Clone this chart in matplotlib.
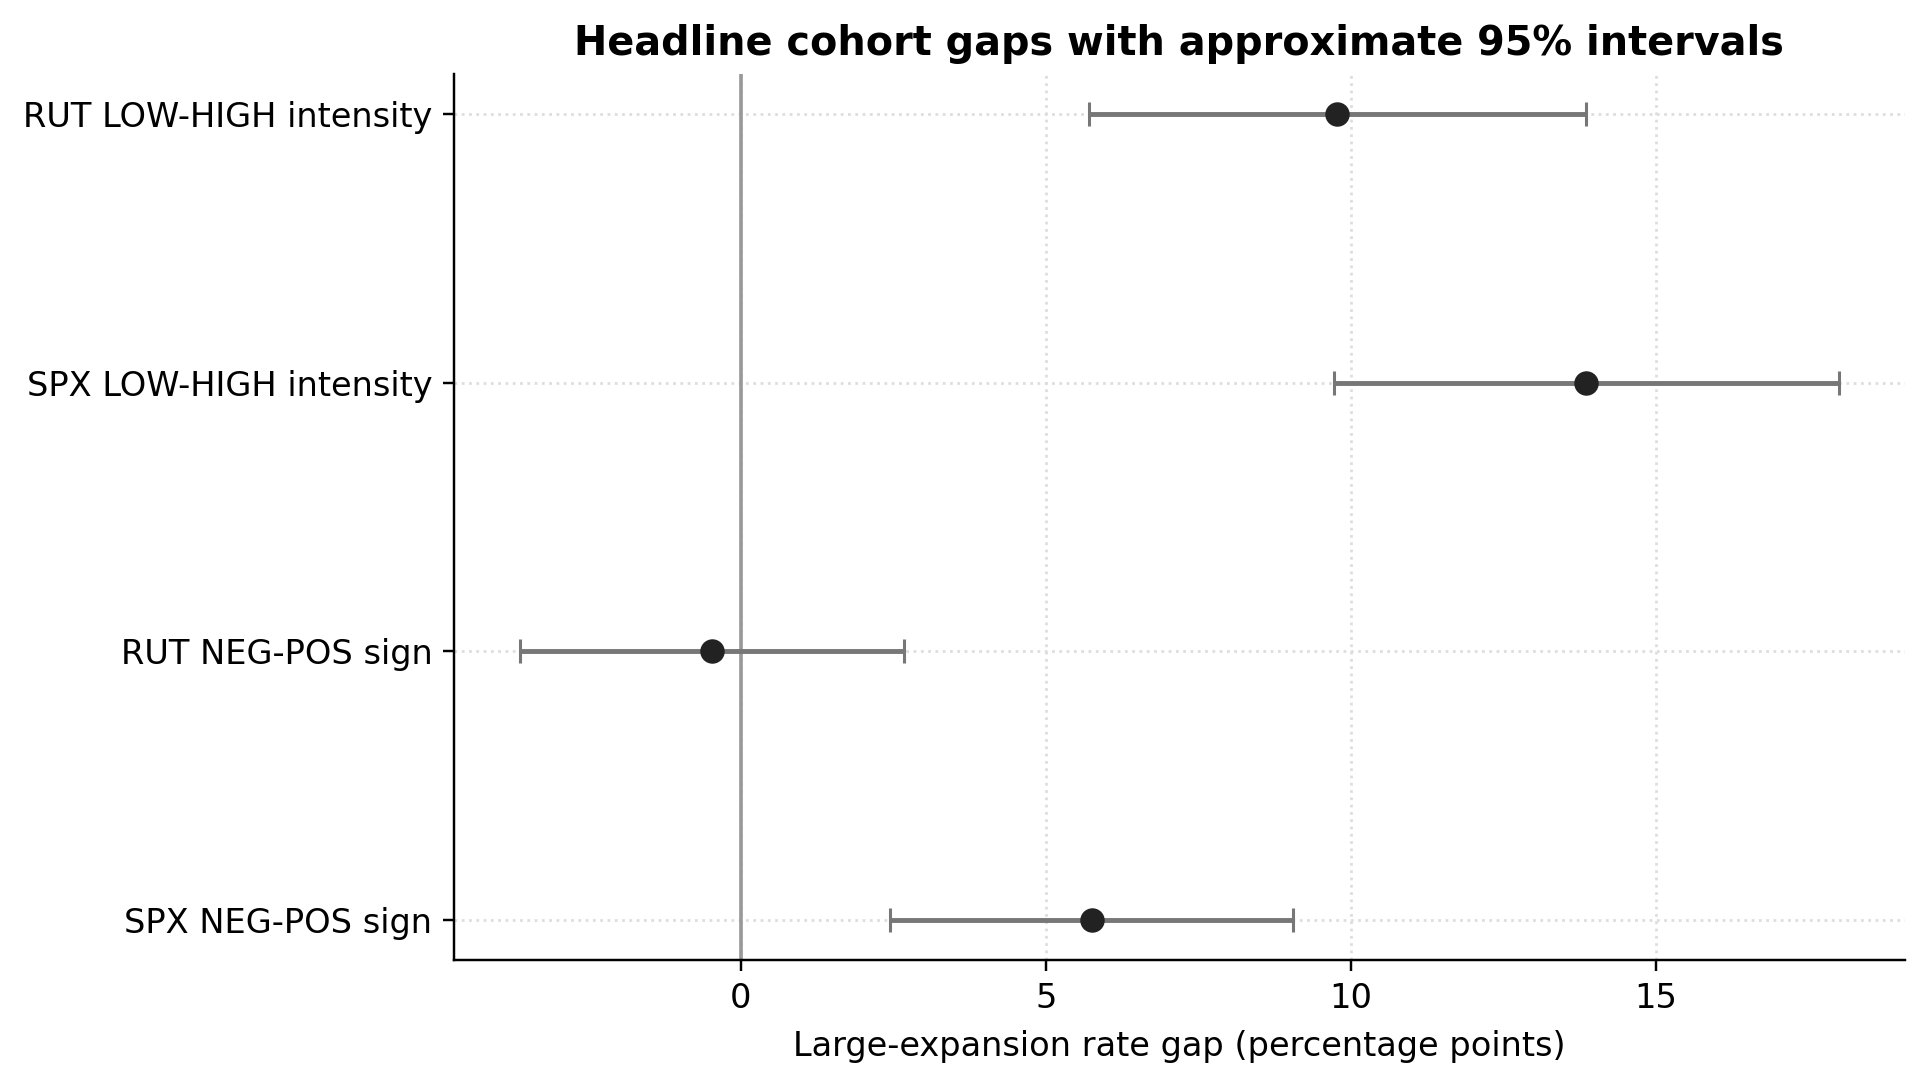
import matplotlib
matplotlib.use("Agg")
import matplotlib.pyplot as plt
import numpy as np

labels = ["SPX NEG-POS sign", "RUT NEG-POS sign", "SPX LOW-HIGH intensity", "RUT LOW-HIGH intensity"]
gaps = [5.75, -0.48, 13.86, 9.78]
half_width = [3.30, 3.15, 4.14, 4.08]

DPI = 220
fig = plt.figure(figsize=(1928 / DPI, 1088 / DPI), dpi=DPI)
ax = fig.add_axes([0.2353, 0.1174, 0.9879 - 0.2353, 0.9322 - 0.1174])

y = np.arange(len(labels))
ax.axvline(0, color="#999999", linewidth=1.2, zorder=1)
ax.errorbar(gaps, y, xerr=half_width, fmt="none", ecolor="#777777",
            elinewidth=1.6, capsize=4, capthick=1.0, zorder=2)
ax.plot(gaps, y, "o", color="#222222", markersize=7, zorder=3)

ax.set_yticks(y)
ax.set_yticklabels(labels, fontsize=11)
ax.tick_params(axis="x", labelsize=11)
ax.set_xticks([0, 5, 10, 15])
ax.grid(True, linestyle=":", color="#dddddd", linewidth=0.9)
ax.set_axisbelow(True)
ax.spines["top"].set_visible(False)
ax.spines["right"].set_visible(False)
ax.set_xlabel("Large-expansion rate gap (percentage points)", fontsize=11, labelpad=5)
ax.set_title("Headline cohort gaps with approximate 95% intervals", fontsize=13, fontweight="bold")

fig.savefig("out.png", dpi=DPI)
